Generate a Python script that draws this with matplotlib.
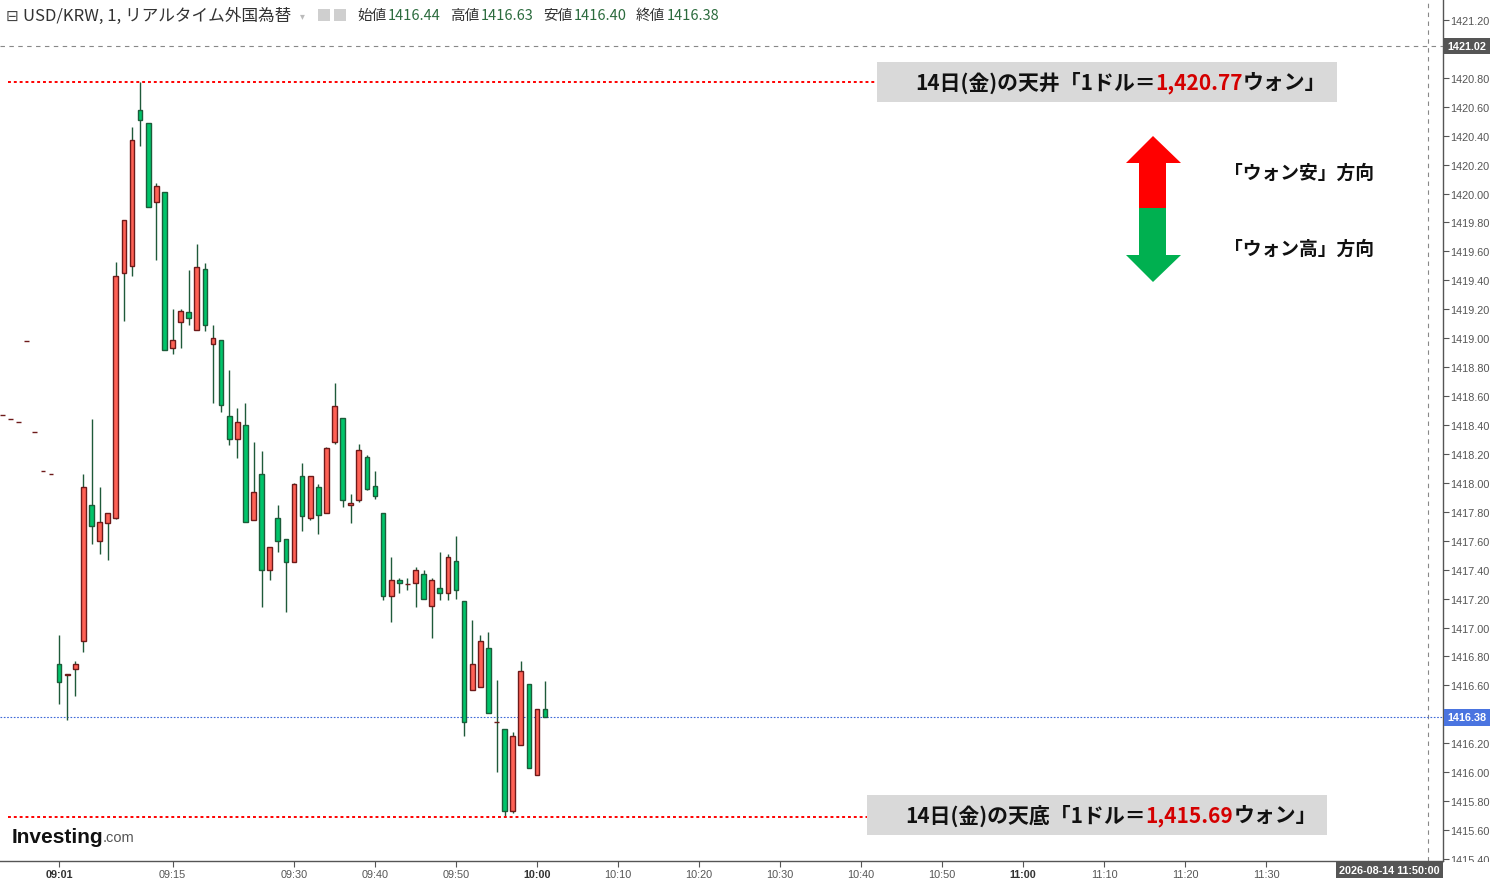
import numpy as np
import matplotlib
matplotlib.use("Agg")
import matplotlib.pyplot as plt
from matplotlib.patches import Rectangle, Polygon

plt.rcParams["font.family"] = ["Noto Sans CJK JP", "DejaVu Sans"]

# minutes after 09:00 (negative = before the open)
minutes = list(range(-6, 62))
opens = [1418.47, 1418.44, 1418.42, 1418.98, 1418.35, 1418.08, 1418.06,
         1416.75, 1416.67, 1416.71, 1416.91, 1417.85, 1417.60, 1417.72, 1417.76,
         1419.45, 1419.50, 1420.58, 1420.49, 1419.94, 1420.01, 1418.93, 1419.11,
         1419.18, 1419.06, 1419.48, 1418.96, 1418.99, 1418.46, 1418.30, 1418.40,
         1417.74, 1418.06, 1417.40, 1417.76, 1417.61, 1417.45, 1418.05, 1417.76,
         1417.97, 1417.79, 1418.28, 1418.45, 1417.85, 1417.88, 1418.18, 1417.98,
         1417.79, 1417.22, 1417.33, 1417.30, 1417.31, 1417.37, 1417.15, 1417.27,
         1417.24, 1417.46, 1417.18, 1416.57, 1416.59, 1416.86, 1416.35, 1416.30,
         1415.73, 1416.19, 1416.61, 1415.98, 1416.44]
highs = [1418.47, 1418.44, 1418.42, 1418.98, 1418.35, 1418.08, 1418.06,
         1416.95, 1416.68, 1416.77, 1418.06, 1418.44, 1417.97, 1417.79, 1419.53,
         1419.82, 1420.46, 1420.77, 1420.49, 1420.07, 1420.01, 1419.20, 1419.20,
         1419.47, 1419.65, 1419.52, 1419.09, 1418.99, 1418.78, 1418.52, 1418.55,
         1418.28, 1418.22, 1417.56, 1417.85, 1417.61, 1418.00, 1418.14, 1418.05,
         1417.99, 1418.25, 1418.69, 1418.45, 1417.92, 1418.27, 1418.19, 1418.08,
         1417.79, 1417.49, 1417.34, 1417.34, 1417.42, 1417.40, 1417.34, 1417.52,
         1417.51, 1417.63, 1417.18, 1417.05, 1416.95, 1416.97, 1416.64, 1416.30,
         1416.28, 1416.77, 1416.61, 1416.44, 1416.63]
lows = [1418.47, 1418.44, 1418.42, 1418.98, 1418.35, 1418.08, 1418.06,
        1416.47, 1416.36, 1416.53, 1416.83, 1417.58, 1417.51, 1417.47, 1417.75,
        1419.12, 1419.43, 1420.33, 1419.91, 1419.54, 1418.92, 1418.89, 1418.93,
        1419.09, 1419.06, 1419.05, 1418.55, 1418.49, 1418.26, 1418.17, 1417.73,
        1417.74, 1417.14, 1417.33, 1417.52, 1417.11, 1417.45, 1417.67, 1417.74,
        1417.65, 1417.79, 1418.27, 1417.83, 1417.72, 1417.87, 1417.95, 1417.89,
        1417.19, 1417.04, 1417.24, 1417.26, 1417.14, 1417.20, 1416.93, 1417.19,
        1417.19, 1417.20, 1416.25, 1416.57, 1416.59, 1416.41, 1416.00, 1415.69,
        1415.72, 1416.19, 1416.03, 1415.98, 1416.38]
closes = [1418.47, 1418.44, 1418.42, 1418.98, 1418.35, 1418.08, 1418.06,
          1416.62, 1416.68, 1416.75, 1417.97, 1417.70, 1417.73, 1417.79, 1419.43,
          1419.82, 1420.37, 1420.51, 1419.91, 1420.05, 1418.92, 1418.99, 1419.19,
          1419.14, 1419.49, 1419.09, 1419.00, 1418.54, 1418.30, 1418.42, 1417.73,
          1417.94, 1417.40, 1417.56, 1417.60, 1417.45, 1417.99, 1417.77, 1418.05,
          1417.78, 1418.24, 1418.53, 1417.88, 1417.86, 1418.23, 1417.96, 1417.91,
          1417.22, 1417.33, 1417.31, 1417.30, 1417.40, 1417.20, 1417.33, 1417.24,
          1417.49, 1417.26, 1416.35, 1416.75, 1416.91, 1416.41, 1416.35, 1415.73,
          1416.25, 1416.70, 1416.03, 1416.44, 1416.38]

day_high = 1420.77
day_low = 1415.69
last_price = 1416.38
cursor_price = 1421.02
cursor_minute = 170

header_ohlc = [("始値", "1416.44"), ("高値", "1416.63"), ("安値", "1416.40"), ("終値", "1416.38")]
xtick_minutes = [1, 15, 30, 40, 50, 60, 70, 80, 90, 100, 110, 120, 130, 140, 150]
xtick_labels = ["09:01", "09:15", "09:30", "09:40", "09:50", "10:00", "10:10", "10:20",
                "10:30", "10:40", "10:50", "11:00", "11:10", "11:20", "11:30"]
bold_labels = {"09:01", "10:00", "11:00"}
yticks = np.round(np.arange(1415.4, 1421.21, 0.2), 2)

UP_BODY, UP_EDGE = "#ff6155", "#6e1a1a"
DN_BODY, DN_EDGE = "#00c46a", "#1c5c3a"
WICK = "#1f5a3a"
GRID_TXT = "#555555"

W, H = 1490, 879
fig = plt.figure(figsize=(W / 100, H / 100), dpi=100)
ax = fig.add_axes([0, 17 / H, 1443 / W, 862 / H])

px_per_min = 8.1
x_open = 51
ax.set_xlim(-x_open / px_per_min, (1443 - x_open) / px_per_min)
ax.set_ylim(1415.386, 1421.345)


def axfrac(px, py):
    # reference pixel -> axes fraction
    return px / 1443, (862 - py) / 862


o = np.array(opens)
c = np.array(closes)
up = c >= o
ax.vlines(minutes, lows, highs, color=WICK, lw=1, zorder=2)
ax.bar(minutes, np.abs(c - o), bottom=np.minimum(o, c), width=0.58,
       color=np.where(up, UP_BODY, DN_BODY), edgecolor=np.where(up, UP_EDGE, DN_EDGE),
       linewidth=1, zorder=3)

# crosshair and last price line
ax.axvline(cursor_minute, color="#888888", lw=0.8, ls=(0, (4, 4)), zorder=1)
ax.axhline(cursor_price, color="#888888", lw=0.8, ls=(0, (4, 4)), zorder=1)
ax.axhline(last_price, color="#3d68d8", lw=0.8, ls=(0, (1.5, 1.5)), zorder=1)

ytr = ax.get_yaxis_transform()
for price, fc in [(cursor_price, "#555555"), (last_price, "#4a74e0")]:
    ax.text(1.003, price, f"{price:.2f}", transform=ytr, ha="left", va="center",
            fontsize=7.8, fontweight="bold", color="white", family="Liberation Sans",
            bbox=dict(boxstyle="square,pad=0.32", fc=fc, ec="none"), clip_on=False)

# high / low markers with label boxes
boxes = [(day_high, "14日(金)の天井「1ドル＝", 877, 1337, 63, 103, 915),
         (day_low, "14日(金)の天底「1ドル＝", 867, 1327, 796, 836, 905)]
for price, prefix, bx0, bx1, by0, by1, tx in boxes:
    ax.plot([8 / 1443, bx0 / 1443], [price, price], transform=ytr, color="#ff0000",
            lw=1.4, ls=(0, (1.5, 1.5)), zorder=4)
    x0, y0 = axfrac(bx0, by1)
    x1, y1 = axfrac(bx1, by0)
    ax.add_patch(Rectangle((x0, y0), x1 - x0, y1 - y0, transform=ax.transAxes,
                           fc="#d9d9d9", ec="none", zorder=4))
    t1 = ax.text(tx / 1443, (y0 + y1) / 2, prefix, transform=ax.transAxes, ha="left",
                 va="center", fontsize=15, fontweight="bold", color="#111111", zorder=5)
    t2 = ax.annotate(f"{price:,.2f}", xy=(1, 0), xycoords=t1, ha="left", va="bottom",
                     fontsize=15, fontweight="bold", color="#d40000", zorder=5)
    ax.annotate("ウォン」", xy=(1, 0), xycoords=t2, ha="left", va="bottom",
                fontsize=15, fontweight="bold", color="#111111", zorder=5)

# direction arrow
red_pts = [(1153, 137), (1181, 164), (1166, 164), (1166, 209), (1139, 209), (1139, 164), (1126, 164)]
green_pts = [(1139, 209), (1166, 209), (1166, 256), (1181, 256), (1153, 283), (1126, 256), (1139, 256)]
ax.add_patch(Polygon([axfrac(*p) for p in red_pts], closed=True, transform=ax.transAxes,
                     fc="#ff0000", ec="none", zorder=4))
ax.add_patch(Polygon([axfrac(*p) for p in green_pts], closed=True, transform=ax.transAxes,
                     fc="#00b050", ec="none", zorder=4))
for label, py in [("「ウォン安」方向", 173), ("「ウォン高」方向", 249)]:
    ax.text(*axfrac(1224, py), label, transform=ax.transAxes, ha="left", va="center",
            fontsize=13.5, fontweight="bold", color="#111111", zorder=5)

# logo
logo = ax.text(*axfrac(12, 838), "Investing", transform=ax.transAxes, ha="left", va="center",
               fontsize=15, fontweight="bold", family="Liberation Sans", color="#111111")
ax.annotate(".com", xy=(1, 0), xycoords=logo, ha="left", va="bottom", fontsize=10.5,
            family="Liberation Sans", color="#555555", xytext=(-1, 1.5), textcoords="offset points")

# axes styling
for side in ["left", "top"]:
    ax.spines[side].set_visible(False)
for side in ["right", "bottom"]:
    ax.spines[side].set_color(GRID_TXT)
    ax.spines[side].set_linewidth(1)
ax.yaxis.tick_right()
ax.set_yticks(yticks)
# labels at 1421.00 and 1416.40 sit under the price boxes
ax.set_yticklabels(["" if abs(v - cursor_price) < 0.1 or abs(v - last_price) < 0.1
                    else f"{v:.2f}" for v in yticks])
ax.set_xticks(xtick_minutes)
ax.set_xticklabels(xtick_labels)
ax.tick_params(axis="both", direction="out", length=4, width=0.8, color=GRID_TXT,
               labelsize=7.8, labelcolor=GRID_TXT, labelfontfamily="Liberation Sans")
ax.tick_params(axis="y", pad=1.5)
ax.tick_params(axis="x", pad=2)
for lab in ax.get_xticklabels():
    if lab.get_text() in bold_labels:
        lab.set_fontweight("bold")
        lab.set_color("#333333")

# hide the part of the lowest price label that falls below the time axis
fig.patches.append(Rectangle((1444 / W, 0), 46 / W, 16.5 / H, transform=fig.transFigure,
                             fc="white", ec="none", zorder=10))
fig.text(1389.5 / W, 1 - 871.5 / H, "2026-08-14 11:50:00", ha="center", va="center",
         fontsize=7.8, fontweight="bold", color="white", family="Liberation Sans",
         bbox=dict(boxstyle="square,pad=0.32", fc="#555555", ec="none"), zorder=20)

# header line
fig.text(6 / W, 1 - 16 / H, "⊟", ha="left", va="center", fontsize=11, color="#444444")
fig.text(23 / W, 1 - 16 / H, "USD/KRW, 1, リアルタイム外国為替", ha="left", va="center",
         fontsize=12, color="#333333")
fig.text(300 / W, 1 - 16 / H, "▾", ha="left", va="center", fontsize=7, color="#bbbbbb",
         family="DejaVu Sans")
for ix in [318, 334]:
    fig.patches.append(Rectangle((ix / W, 1 - 22 / H), 12 / W, 12 / H, transform=fig.transFigure,
                                 fc="#cfcfcf", ec="none"))
hx = 357
for name, val in header_ohlc:
    fig.text(hx / W, 1 - 16 / H, name, ha="left", va="center", fontsize=10.5, color="#333333")
    fig.text((hx + 31) / W, 1 - 16 / H, val, ha="left", va="center", fontsize=10.5,
             color="#2b6b3d")
    hx += 93

fig.savefig("out.png", dpi=100)
